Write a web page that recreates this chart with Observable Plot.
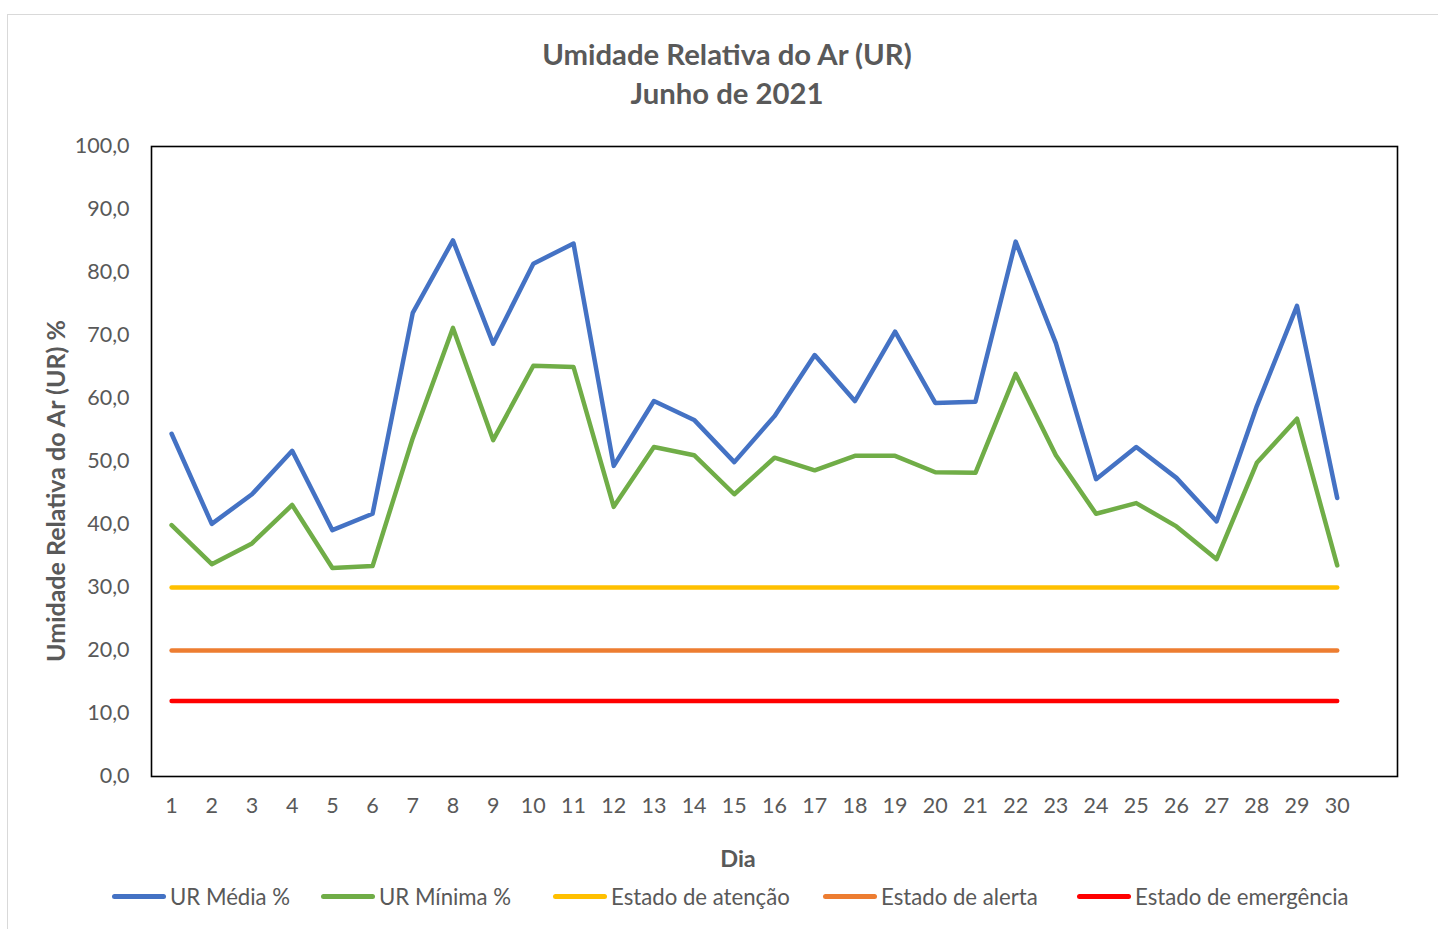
<!DOCTYPE html>
<html>
<head>
<meta charset="utf-8">
<script src="https://cdn.jsdelivr.net/npm/d3@7"></script>
<script src="https://cdn.jsdelivr.net/npm/@observablehq/plot@0.6"></script>
<style>
  body { margin: 0; background: #fff; font-family: Lato, "Open Sans", sans-serif; }
  #wrap { position: relative; width: 1438px; height: 929px; overflow: hidden; }
  #border { position: absolute; left: 7px; top: 14px; width: 1440px; height: 930px; border: 1px solid #d9d9d9; box-sizing: border-box; }
  .title { position: absolute; left: 0; width: 1454px; text-align: center; font-weight: bold; color: #595959; font-size: 29.3px; }
  #chart { position: absolute; left: 0; top: 0; }
  #ylab { position: absolute; left: 55px; top: 491px; transform: translate(-50%, -50%) rotate(-90deg); white-space: nowrap; font-weight: bold; color: #595959; font-size: 25px; }
  #xlab { position: absolute; left: 738px; top: 858px; transform: translate(-50%, -50%); font-weight: bold; color: #595959; font-size: 23.5px; }
  .leg { position: absolute; top: 883px; display: flex; align-items: center; color: #595959; font-size: 22.2px; white-space: nowrap; }
  .sw { width: 54px; height: 5px; border-radius: 3px; margin-right: 4px; }
</style>
</head>
<body>
<div id="wrap">
  <div id="border"></div>
  <div class="title" style="top:36px">Umidade Relativa do Ar (UR)</div>
  <div class="title" style="top:75px">Junho de 2021</div>
  <div id="chart"></div>
  <div id="ylab">Umidade Relativa do Ar (UR) %</div>
  <div id="xlab">Dia</div>
  <div id="legend"></div>
</div>
<script>
const dias = d3.range(1, 31);
const urMedia = [54.4, 40.1, 44.8, 51.7, 39.1, 41.7, 73.6, 85.1, 68.7, 81.4, 84.6, 49.3, 59.6, 56.6, 49.9,
                 57.2, 66.9, 59.6, 70.6, 59.3, 59.5, 84.9, 68.8, 47.2, 52.3, 47.4, 40.5, 58.8, 74.7, 44.2];
const urMinima = [39.9, 33.7, 37.0, 43.1, 33.1, 33.4, 53.7, 71.2, 53.4, 65.2, 65.0, 42.8, 52.3, 51.0, 44.8,
                  50.6, 48.6, 50.9, 50.9, 48.3, 48.2, 63.9, 51.0, 41.7, 43.4, 39.7, 34.5, 49.8, 56.8, 33.5];
const estadoAtencao = 30;
const estadoAlerta = 20;
const estadoEmergencia = 12;
const yTicks = [0, 10, 20, 30, 40, 50, 60, 70, 80, 90, 100];

const series = [
  {name: "UR Média %", color: "#4472C4", values: urMedia},
  {name: "UR Mínima %", color: "#70AD47", values: urMinima},
  {name: "Estado de atenção", color: "#FFC000", values: dias.map(() => estadoAtencao)},
  {name: "Estado de alerta", color: "#ED7D31", values: dias.map(() => estadoAlerta)},
  {name: "Estado de emergência", color: "#FF0000", values: dias.map(() => estadoEmergencia)}
];
const rows = series.flatMap(s => dias.map((d, i) => ({dia: d, valor: s.values[i], serie: s.name})));

const chart = Plot.plot({
  width: 1438,
  height: 880,
  marginLeft: 151,
  marginRight: 41,
  marginTop: 146,
  marginBottom: 104,
  style: {fontFamily: "Lato, 'Open Sans', sans-serif", fontSize: "21.5px", color: "#595959", background: "transparent"},
  x: {domain: [0.5, 31.5], ticks: dias, tickFormat: d => String(d), tickSize: 0, tickPadding: 21, label: null},
  y: {domain: [0, 100], ticks: yTicks, tickFormat: d => d.toFixed(1).replace(".", ","), tickSize: 0, tickPadding: 22, label: null},
  color: {domain: series.map(s => s.name), range: series.map(s => s.color)},
  marks: [
    Plot.frame({stroke: "black", strokeWidth: 1.6}),
    Plot.lineY(rows.filter(r => r.serie.startsWith("Estado")), {x: "dia", y: "valor", stroke: "serie", z: "serie", strokeWidth: 4.5, strokeLinecap: "round"}),
    Plot.lineY(rows.filter(r => r.serie.startsWith("UR")), {x: "dia", y: "valor", stroke: "serie", z: "serie", strokeWidth: 4.5, strokeLinecap: "round", strokeLinejoin: "round"})
  ]
});
document.getElementById("chart").appendChild(chart);

const legLefts = [112, 321, 553, 823, 1077];
const legend = document.getElementById("legend");
series.forEach((s, i) => {
  const item = document.createElement("div");
  item.className = "leg";
  item.style.left = legLefts[i] + "px";
  item.innerHTML = `<div class="sw" style="background:${s.color}"></div><span>${s.name}</span>`;
  legend.appendChild(item);
});
</script>
</body>
</html>
